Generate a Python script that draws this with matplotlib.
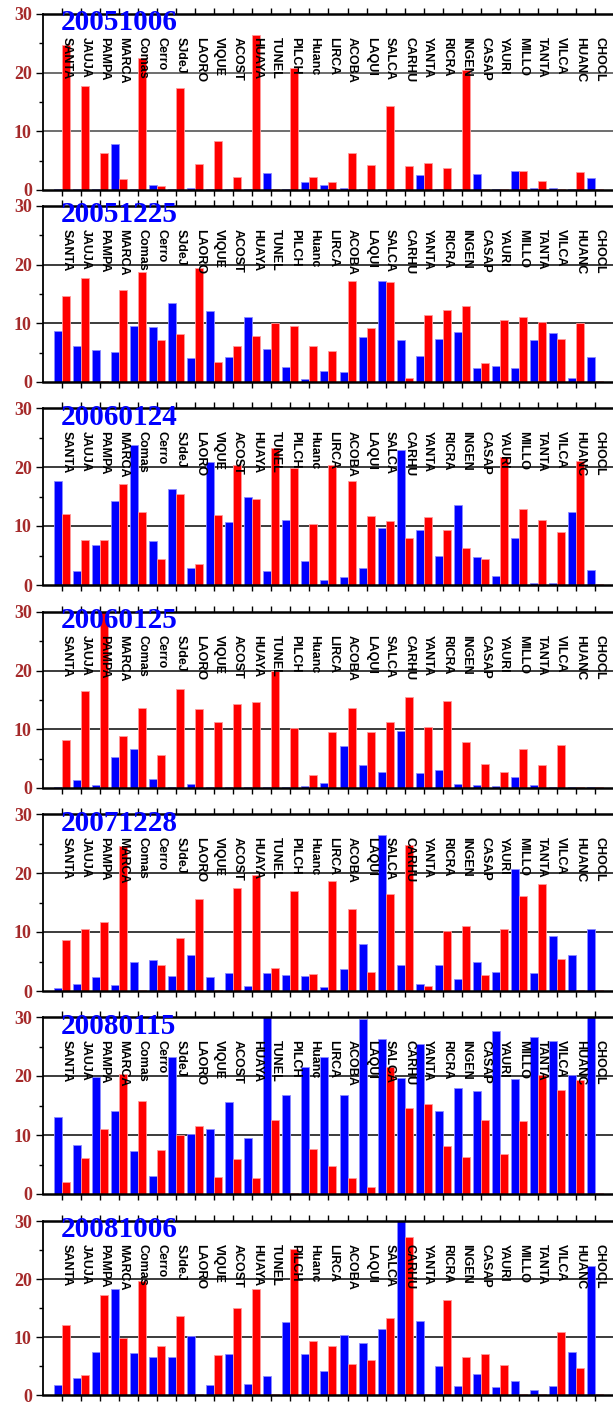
import matplotlib
matplotlib.use("Agg")
import matplotlib.pyplot as plt
import numpy as np
from matplotlib.ticker import MultipleLocator

stations = ["SANTA", "JAUJA", "PAMPA", "MARCA", "Comas", "Cerro", "SJdeJ",
            "LAORO", "VIQUE", "ACOST", "HUAYA", "TUNEL", "PILCH", "Huanc",
            "LIRCA", "ACOBA", "LAQUI", "SALCA", "CARHU", "YANTA", "RICRA",
            "INGEN", "CASAP", "YAURI", "MILLO", "TANTA", "VILCA", "HUANC",
            "CHOCL"]

dates = ["20051006", "20051225", "20060124", "20060125",
         "20071228", "20080115", "20081006"]

blue_20051006 = [0.2, 0.2, 0.2, 7.9, 0.2, 0.8, 0.2, 0.3, 0.1, 0.2, 0.1, 2.9, 0.1,
                 1.4, 0.8, 0.4, 0.2, 0.1, 0.2, 2.6, 0.1, 0.1, 2.7, 0.2, 3.2, 0.4,
                 0.3, 0.1, 2.0]
red_20051006 = [24.7, 17.7, 6.3, 1.9, 22.5, 0.6, 17.4, 4.5, 8.4, 2.2, 26.4, 0.1, 20.8,
                2.2, 1.4, 6.3, 4.3, 14.3, 4.1, 4.6, 3.7, 20.5, 0.1, 0.2, 3.2, 1.6,
                0.1, 3.1, 0.1]

blue_20051225 = [8.7, 6.2, 5.4, 5.1, 9.5, 9.3, 13.4, 4.1, 12.1, 4.2, 11.0, 5.6, 2.6,
                 0.5, 1.9, 1.7, 7.7, 17.2, 7.2, 4.5, 7.4, 8.6, 2.4, 2.7, 2.4, 7.1,
                 8.4, 0.7, 4.3]
red_20051225 = [14.7, 17.7, 0.1, 15.6, 18.8, 7.2, 8.2, 19.5, 3.4, 6.2, 7.9, 10.0, 9.5,
                6.2, 5.3, 17.3, 9.2, 17.1, 0.6, 11.5, 12.2, 12.9, 3.2, 10.5, 11.1, 10.2,
                7.4, 10.0, 0.2]

blue_20060124 = [17.7, 2.4, 6.7, 14.2, 23.7, 7.5, 16.3, 2.8, 20.8, 10.7, 15.0, 2.4, 11.0,
                 4.1, 0.9, 1.4, 2.9, 9.7, 22.9, 9.3, 5.0, 13.6, 4.8, 1.6, 7.9, 0.3,
                 0.4, 12.4, 2.6]
red_20060124 = [12.1, 7.7, 7.7, 17.2, 12.4, 4.4, 15.4, 3.5, 11.8, 20.3, 14.5, 23.3, 19.8,
                10.4, 20.3, 17.7, 11.7, 10.9, 8.0, 11.6, 9.3, 6.2, 4.4, 21.7, 12.8, 11.1,
                9.0, 21.0, 0.2]

blue_20060125 = [0.2, 1.4, 0.5, 5.3, 6.7, 1.5, 0.2, 0.7, 0.1, 0.2, 0.2, 0.1, 0.2,
                 0.3, 0.8, 7.2, 4.0, 2.8, 9.8, 2.6, 3.1, 0.6, 0.5, 0.3, 1.8, 0.5,
                 0.2, 0.2, 0.2]
red_20060125 = [8.2, 16.6, 30.0, 8.8, 13.6, 5.6, 16.9, 13.4, 11.2, 14.4, 14.7, 20.0, 10.2,
                2.3, 9.5, 13.6, 9.5, 11.2, 15.5, 10.4, 14.9, 7.8, 4.1, 2.8, 6.7, 3.9,
                7.3, 0.2, 0.1]

blue_20071228 = [0.5, 1.2, 2.4, 1.0, 4.9, 5.2, 2.6, 6.1, 2.4, 3.0, 0.8, 3.0, 2.7,
                 2.5, 0.7, 3.7, 7.9, 26.4, 4.4, 1.2, 4.4, 2.0, 5.0, 3.2, 20.7, 3.0,
                 9.3, 6.1, 10.5]
red_20071228 = [8.7, 10.5, 11.7, 24.5, 0.1, 4.4, 9.0, 15.6, 0.1, 17.5, 19.7, 3.9, 17.0,
                2.8, 18.6, 13.9, 3.3, 16.5, 24.7, 0.8, 10.1, 11.0, 2.7, 10.5, 16.1, 18.2,
                5.4, 0.2, 0.2]

blue_20080115 = [13.0, 8.3, 19.8, 14.1, 7.3, 3.0, 23.2, 10.1, 11.0, 15.6, 9.5, 30.0, 16.8,
                 21.6, 23.2, 16.8, 29.6, 26.3, 19.7, 25.4, 14.1, 18.0, 17.5, 27.7, 19.5, 26.6,
                 25.9, 20.2, 30.0]
red_20080115 = [2.0, 6.1, 11.1, 20.3, 15.7, 7.4, 10.0, 11.5, 2.8, 5.9, 2.7, 12.5, 0.2,
                7.6, 4.7, 2.7, 1.2, 21.5, 14.6, 15.2, 8.2, 6.3, 12.5, 6.7, 12.4, 20.1,
                17.7, 19.3, 0.2]

blue_20081006 = [1.8, 3.0, 7.4, 18.2, 7.3, 6.6, 6.6, 10.1, 1.7, 7.0, 1.9, 3.2, 12.6,
                 7.1, 4.2, 10.4, 9.0, 11.4, 30.0, 12.7, 5.0, 1.6, 3.6, 1.3, 2.5, 0.8,
                 1.5, 7.5, 22.3]
red_20081006 = [12.0, 3.5, 17.2, 9.8, 19.7, 8.4, 13.6, 0.1, 6.9, 15.0, 18.3, 0.1, 25.2,
                9.3, 8.5, 5.3, 6.0, 13.3, 27.2, 0.1, 16.3, 6.6, 7.0, 5.2, 0.1, 0.1,
                10.8, 4.6, 0.1]

blues = [blue_20051006, blue_20051225, blue_20060124, blue_20060125,
         blue_20071228, blue_20080115, blue_20081006]
reds = [red_20051006, red_20051225, red_20060124, red_20060125,
        red_20071228, red_20080115, red_20081006]

# panel extents in pixels (top spine, zero line)
W, H = 613, 1403
panel_px = [(14, 190), (206, 382), (408, 585), (612, 788),
            (814, 991), (1017, 1194), (1221, 1395)]

fig = plt.figure(figsize=(W / 100, H / 100), dpi=100)

x = np.arange(len(stations))
bw = 0.42

for k, (date, bvals, rvals) in enumerate(zip(dates, blues, reds)):
    top, bot = panel_px[k]
    ax = fig.add_axes([43 / W, 1 - bot / H, 590 / W, (bot - top) / H])
    ax.set_xlim(-1, 30)
    ax.set_ylim(0, 30)

    ax.bar(x - bw, bvals, bw, align="edge", color="#0000ff",
           edgecolor="#8c8cff", linewidth=0.6, zorder=2)
    ax.bar(x, rvals, bw, align="edge", color="#ff0000",
           edgecolor="#ff9a9a", linewidth=0.6, zorder=2)

    grid_col = "#555555" if k == 0 else "#1a1a1a"
    for y in (10, 20):
        ax.axhline(y, color=grid_col, linewidth=1.2, zorder=1)

    for i, name in enumerate(stations):
        ax.text(i - 0.08, 26.1, name, rotation=-90, ha="left", va="top",
                fontsize=9, family="Liberation Sans", fontweight="bold",
                color="black", zorder=4)

    ax.text(-0.05, 27.2, date, ha="left", va="baseline", fontsize=21,
            family="Liberation Serif", fontweight="bold", color="#0000ff", zorder=5)

    ax.spines["right"].set_visible(False)
    ax.spines["top"].set_linewidth(1.8)
    ax.spines["bottom"].set_linewidth(1.8)
    ax.spines["left"].set_linewidth(1.3)

    ax.set_xticks(x)
    ax.set_xticklabels([])
    ax.tick_params(axis="x", which="major", direction="out", length=4,
                   width=1, top=True, bottom=True)
    ax.yaxis.set_major_locator(MultipleLocator(10))
    ax.yaxis.set_minor_locator(MultipleLocator(5))
    ax.tick_params(axis="y", which="major", direction="out", length=5, width=1,
                   pad=3, labelsize=13, labelcolor="#a52a2a")
    ax.tick_params(axis="y", which="minor", direction="out", length=3, width=1)
    for lab in ax.get_yticklabels():
        lab.set_family("Liberation Serif")
        lab.set_fontweight("bold")

fig.savefig("out.png", dpi=100)
